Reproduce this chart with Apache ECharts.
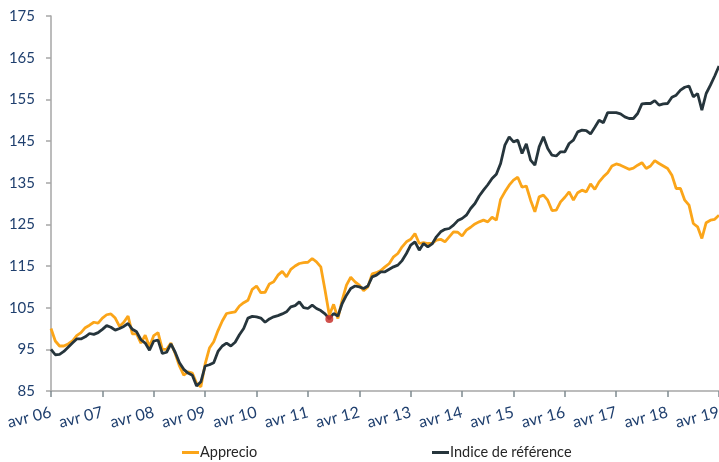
<!DOCTYPE html>
<html>
<head>
<meta charset="utf-8">
<script src="https://cdn.jsdelivr.net/npm/echarts@6/dist/echarts.min.js"></script>
<style>html,body{margin:0;padding:0;background:#fff}#c{width:719px;height:462px}</style>
</head>
<body>
<div id="c"></div>
<script>
// Monthly data from avr 06 to avr 19
var monthNames = ['janv','févr','mars','avr','mai','juin','juil','août','sept','oct','nov','déc'];
var startYear = 2006, startMonth = 3, nMonths = 157;

var apprecio = [
  100, 97, 95.8, 95.8, 96.3, 97, 98.3, 99, 100.2, 100.8, 101.5, 101.3,
  102.5, 103.3, 103.5, 102.5, 100.5, 101.5, 103, 98.7, 98.7, 96.5, 98.4, 95.6,
  98.3, 99, 95, 95, 96.5, 94, 91, 88.8, 89.6, 89.3, 86.8, 86,
  91.5, 95.3, 96.8, 99.5, 101.8, 103.6, 103.8, 104, 105.4, 106.2, 106.8, 109.4,
  110.2, 108.6, 108.7, 110.7, 111.2, 112.8, 113.7, 112.4, 114.2, 115, 115.6, 115.8,
  115.9, 116.8, 116, 114.8, 109.2, 103.2, 105.8, 102.4, 106.8, 110.4, 112.3, 111.2,
  110.4, 109.1, 110, 113.1, 113.4, 113.9, 114.8, 115.6, 117.2, 118, 119.6, 120.8,
  121.4, 122.8, 120.4, 120.6, 120.4, 120.4, 121.2, 121.4, 120.8, 122, 123.2, 123.1,
  122.2, 123.6, 124.3, 125.1, 125.6, 126, 125.6, 126.7, 126, 131, 132.8, 134.4,
  135.6, 136.3, 133.9, 134.2, 130.8, 128, 131.6, 132, 130.8, 128.3, 128.4, 130.4,
  131.5, 132.8, 130.8, 132.6, 133.2, 132.8, 134.7, 133.4, 135.2, 136.4, 137.4, 139,
  139.5, 139.2, 138.7, 138.2, 138.5, 139.2, 139.8, 138.4, 139, 140.3, 139.6, 139,
  138.4, 136.8, 133.6, 133.6, 130.8, 129.6, 125.2, 124.4, 121.6, 125.4, 126, 126.2,
  127.2
];

var reference = [
  95, 93.7, 93.8, 94.5, 95.5, 96.5, 97.5, 97.5, 98, 98.8, 98.6, 99,
  99.8, 100.7, 100.3, 99.6, 100, 100.5, 101.2, 99.8, 99.2, 97.3, 96.5, 94.8,
  97, 97.2, 94, 94.3, 96.3, 94.3, 91.8, 90.2, 89.3, 88.8, 86.2, 87.2,
  91, 91.3, 91.8, 94.5, 95.8, 96.5, 95.8, 96.7, 98.5, 100, 102.5, 102.9,
  102.8, 102.5, 101.5, 102.3, 102.8, 103.1, 103.5, 104, 105.2, 105.5, 106.4, 105,
  104.8, 105.6, 104.8, 104.3, 103.5, 102.3, 103.6, 103, 106, 108, 109.6, 110.2,
  110, 109.6, 110.2, 112.4, 112.8, 113.6, 113.6, 114.2, 114.8, 115.2, 116.3, 118,
  120, 120.8, 118.8, 120.4, 119.6, 120.3, 122, 123.2, 123.8, 124, 124.8, 125.9,
  126.4, 127.2, 128.8, 130, 131.8, 133.2, 134.5, 136, 137, 139.6, 144, 146,
  144.8, 145.2, 142, 144.3, 140.4, 139.2, 143.6, 146, 143.2, 141.6, 141.4, 142.4,
  142.4, 144.4, 145.2, 147.2, 147.6, 147.5, 146.7, 148.3, 150, 149.4, 151.8, 151.8,
  151.8, 151.5, 150.8, 150.4, 150.4, 151.6, 153.9, 154, 154, 154.7, 153.6, 153.9,
  154, 155.5, 156, 157.2, 157.9, 158.2, 155.6, 156.4, 152.4, 156.4, 158.4, 160.6,
  163
];

var seriesNames = ['Apprecio', 'Indice de référence'];
var markedIndex = 65;

var categories = [];
for (var k = 0; k < nMonths; k++) {
  var m = (startMonth + k) % 12;
  var y = startYear + Math.floor((startMonth + k) / 12);
  categories.push(monthNames[m] + ' ' + String(y % 100).padStart(2, '0'));
}

var FONT = 'Lato, "Open Sans", sans-serif';
var chart = echarts.init(document.getElementById('c'), null, {renderer: 'canvas'});
chart.setOption({
  animation: false,
  backgroundColor: '#fff',
  grid: {left: 51, right: 0, top: 16, bottom: 71, containLabel: false, outerBoundsMode: 'none'},
  legend: [
    {data: [seriesNames[0]], left: 177, top: 440, icon: 'rect', itemWidth: 17, itemHeight: 3, itemGap: 2,
     textStyle: {fontFamily: FONT, fontSize: 14.5, color: '#262626', padding: [0, 0, 0, -4]}},
    {data: [seriesNames[1]], left: 427, top: 440, icon: 'rect', itemWidth: 17, itemHeight: 3, itemGap: 2,
     textStyle: {fontFamily: FONT, fontSize: 14.5, color: '#262626', padding: [0, 0, 0, -4]}}
  ],
  xAxis: {
    type: 'category',
    data: categories,
    boundaryGap: false,
    axisLine: {lineStyle: {color: '#A6A6A6', width: 1.5}},
    axisTick: {show: true, interval: 11, length: 6, lineStyle: {color: '#7F8A90', width: 1.5}},
    axisLabel: {interval: 11, rotate: 14, margin: 21, fontFamily: FONT, fontSize: 16, color: '#1F3F6E'},
    splitLine: {show: false}
  },
  yAxis: {
    type: 'value',
    min: 85, max: 175, interval: 10,
    axisLine: {show: true, lineStyle: {color: '#A6A6A6', width: 1.5}},
    axisTick: {show: true, length: 5, lineStyle: {color: '#A6A6A6', width: 1.5}},
    axisLabel: {margin: 16, fontFamily: FONT, fontSize: 15, color: '#1F3F6E'},
    splitLine: {show: false}
  },
  series: [
    {name: seriesNames[0], type: 'line', data: apprecio, showSymbol: false, symbol: 'none',
     lineStyle: {color: '#FBA519', width: 2.8}, itemStyle: {color: '#FBA519'}, z: 2},
    {name: seriesNames[1], type: 'line', data: reference, showSymbol: false, symbol: 'none',
     lineStyle: {color: '#26353C', width: 2.8}, itemStyle: {color: '#26353C'}, z: 3,
     markPoint: {symbol: 'circle', symbolSize: 8, silent: true, label: {show: false},
       itemStyle: {color: 'rgba(200,50,45,0.85)'},
       data: [{coord: [categories[markedIndex], reference[markedIndex]]}]}}
  ]
});
</script>
</body>
</html>
